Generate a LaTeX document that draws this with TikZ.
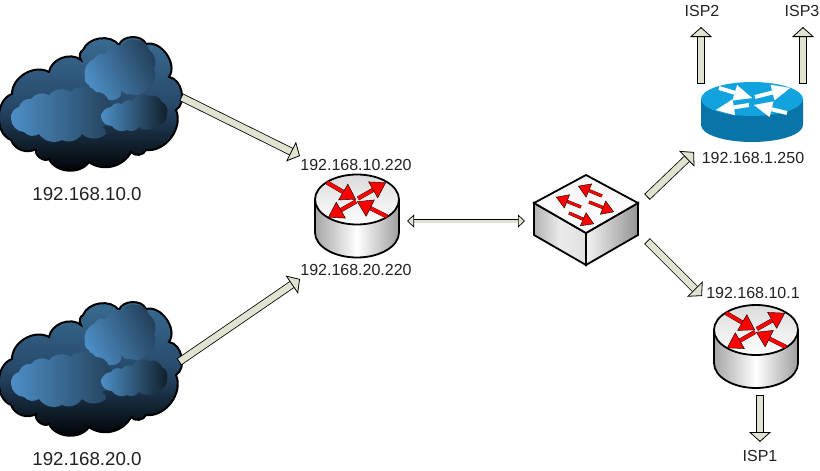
\documentclass[tikz,border=0pt]{standalone}
\usepackage{fontspec}
\setmainfont{Liberation Sans}
\usetikzlibrary{arrows.meta}

\definecolor{arrowfill}{HTML}{E0E3D0}
\definecolor{labelgray}{HTML}{222222}
\definecolor{cloudtop}{HTML}{3A6D94}
\definecolor{cloudmid}{HTML}{27496A}
\definecolor{cloudlight}{HTML}{4D8FC6}
\definecolor{clouddark}{HTML}{24405A}
\definecolor{ciscotop}{HTML}{12A2DE}
\definecolor{ciscoside}{HTML}{0874A8}

\tikzset{
  netlabel/.style={text=labelgray, inner sep=0pt, font=\fontsize{16}{18}\selectfont},
  cloudlabel/.style={text=labelgray, inner sep=0pt, font=\fontsize{18.7}{20}\selectfont},
  blockarrow/.style={draw=black, line width=.8pt, double=arrowfill, double distance=6.4pt, {Bar[width=8pt,line width=.8pt]}-{Triangle[width=22pt,length=10pt,fill=arrowfill,color=black,line width=.8pt]}},
  linkarrow/.style={draw=black, line width=.7pt, double=arrowfill, double distance=3pt, {Triangle[width=13pt,length=7pt,fill=arrowfill,color=black,line width=.7pt]}-{Triangle[width=13pt,length=7pt,fill=arrowfill,color=black,line width=.7pt]}},
  redflow/.style={draw=black, line width=.3pt, double=red, double distance=3.6pt, -{Triangle[width=19pt,length=15pt,fill=red,color=black,line width=.4pt]}},
  switchflow/.style={draw=black, line width=.3pt, double=red, double distance=2.6pt, -{Triangle[width=15pt,length=12pt,fill=red,color=black,line width=.4pt]}},
  whiteflow/.style={draw=white, line width=4pt, -{Triangle[width=16pt,length=18pt,fill=white,color=white,line width=.1pt]}},
  pics/netcloud/.style={code={
    \path[draw=black, line width=2pt, top color=cloudtop, bottom color=black, middle color=cloudmid, shading angle=0]
      (12,113) to[bend left=70] (13,67) to[bend left=60] (50,45) to[bend left=60] (82,33)
      to[bend left=50] (84,23) to[bend left=60] (120,18) to[bend left=70] (147,17) to[bend left=70] (170,50)
      to[bend left=70] (177,83) to[bend left=60] (147,123) to[bend left=60] (132,125) to[bend left=50] (90,135)
      to[bend left=60] (50,132) to[bend left=70] (37,122) to[bend left=50] (12,113);
    \path[left color=cloudlight, right color=clouddark, shading angle=115]
      (86,50) to[bend left=40] (95,32) to[bend left=40] (107,27) to[bend left=40] (123,18) to[bend left=40] (137,13)
      to[bend left=40] (150,23) to[bend left=40] (155,42) to[bend left=40] (148,62) to[bend left=40] (132,67)
      to[bend left=40] (122,62) to[bend left=40] (118,72) to[bend left=40] (103,68) to[bend left=40] (90,58) to[bend left=40] (86,50);
    \path[left color=cloudlight, right color=clouddark]
      (12,92) to[bend left=40] (20,80) to[bend left=40] (32,72) to[bend left=40] (50,68) to[bend left=40] (72,65)
      to[bend left=40] (80,61) to[bend left=40] (97,65) to[bend left=40] (110,75) to[bend left=40] (113,87)
      to[bend left=40] (103,100) to[bend left=40] (107,107) to[bend left=40] (83,107) to[bend left=40] (63,113)
      to[bend left=40] (40,107) to[bend left=40] (25,105) to[bend left=40] (12,92);
    \path[left color=cloudlight, right color=black!80!cloudlight]
      (102,90) to[bend left=40] (112,80) to[bend left=40] (123,77) to[bend left=40] (133,74) to[bend left=40] (150,69)
      to[bend left=40] (163,75) to[bend left=40] (168,87) to[bend left=40] (160,98) to[bend left=40] (140,100)
      to[bend left=40] (128,103) to[bend left=40] (113,99) to[bend left=40] (102,90);
  }},
  pics/redrouter/.style={code={
    \path[draw=black, line width=1.8pt, left color=black!35, right color=black!38, middle color=white]
      (-42,0) -- (-42,33) arc[start angle=180, end angle=0, x radius=42, y radius=25] -- (42,0) -- cycle;
    \path[draw=black, line width=1.8pt, top color=black!14, bottom color=white]
      (0,0) ellipse[x radius=42, y radius=25];
    \foreach \ax/\ay/\bx/\by in {-30/-17/-1/0, 1/-1/29/-17, -1/2/-29/18, 30/17/0/2} \draw[redflow] (\ax,\ay) -- (\bx,\by);
  }},
  pics/bluerouter/.style={code={
    \path[fill=ciscoside] (-51,0) -- (-51,26) arc[start angle=180, end angle=0, x radius=51, y radius=17] -- (51,0) -- cycle;
    \path[fill=ciscotop] (0,0) ellipse[x radius=51, y radius=17];
    \foreach \ax/\ay/\bx/\by in {-33/-11/0/-1, 3/-2/38/-11, -3/6/-36/11, 35/14/2/6} \draw[whiteflow] (\ax,\ay) -- (\bx,\by);
  }},
  pics/redswitch/.style={code={
    \path[draw=black, line width=1.8pt, left color=black!30, right color=black!12, middle color=black!8]
      (-52,0) -- (0,30) -- (0,62) -- (-52,32) -- cycle;
    \path[draw=black, line width=1.8pt, left color=black!5, right color=black!42]
      (52,0) -- (0,30) -- (0,62) -- (52,32) -- cycle;
    \path[draw=black, line width=1.8pt, top color=black!4, bottom color=white]
      (0,-28) -- (52,0) -- (0,30) -- (-52,0) -- cycle;
    \foreach \ax/\ay/\bx/\by in {16/-7/-8/-17, -5/4/-30/-6, 3/-1/28/9, -17/10/8/21} \draw[switchflow] (\ax,\ay) -- (\bx,\by);
  }}
}

\begin{document}
\begin{tikzpicture}[x=1pt, y=-1pt]
\useasboundingbox (0,0) rectangle (820,471);

\pic (cloudA) at (-1,27) {netcloud};
\pic (cloudB) at (-1,292) {netcloud};
\pic (routerA) at (357,199.5) {redrouter};
\pic (routerB) at (756,330) {redrouter};
\pic (routerC) at (752,99) {bluerouter};
\pic (switchA) at (586,203) {redswitch};

\node[cloudlabel] (netA) at (87,194) {192.168.10.0};
\node[cloudlabel] (netB) at (87,459) {192.168.20.0};
\node[netlabel] (addrAup) at (356,165) {192.168.10.220};
\node[netlabel] (addrAdown) at (356,270) {192.168.20.220};
\node[netlabel] (addrC) at (753,158) {192.168.1.250};
\node[netlabel] (addrB) at (753,293) {192.168.10.1};
\node[netlabel] (ispA) at (760,456) {ISP1};
\node[netlabel] (ispB) at (702,11) {ISP2};
\node[netlabel] (ispC) at (802,11) {ISP3};

\coordinate (cloudAout) at (181,97);
\coordinate (cloudBout) at (179,362);
\coordinate (routerAinA) at (300,156);
\coordinate (routerAinB) at (300,279);
\coordinate (routerAout) at (407,221);
\coordinate (switchAin) at (525,221);
\coordinate (switchAoutC) at (647,197);
\coordinate (switchAoutB) at (647,241);
\coordinate (routerCin) at (694,152);
\coordinate (routerBin) at (702,296);
\coordinate (routerCoutB) at (701,84);
\coordinate (routerCoutC) at (803,84);
\coordinate (upB) at (701,27);
\coordinate (upC) at (803,27);
\coordinate (routerBout) at (760,395);
\coordinate (downA) at (760,442);

\draw[blockarrow] (cloudAout) -- (routerAinA);
\draw[blockarrow] (cloudBout) -- (routerAinB);
\draw[linkarrow] (routerAout) -- (switchAin);
\draw[blockarrow] (switchAoutC) -- (routerCin);
\draw[blockarrow] (switchAoutB) -- (routerBin);
\draw[blockarrow] (routerCoutB) -- (upB);
\draw[blockarrow] (routerCoutC) -- (upC);
\draw[blockarrow] (routerBout) -- (downA);
\end{tikzpicture}
\end{document}
